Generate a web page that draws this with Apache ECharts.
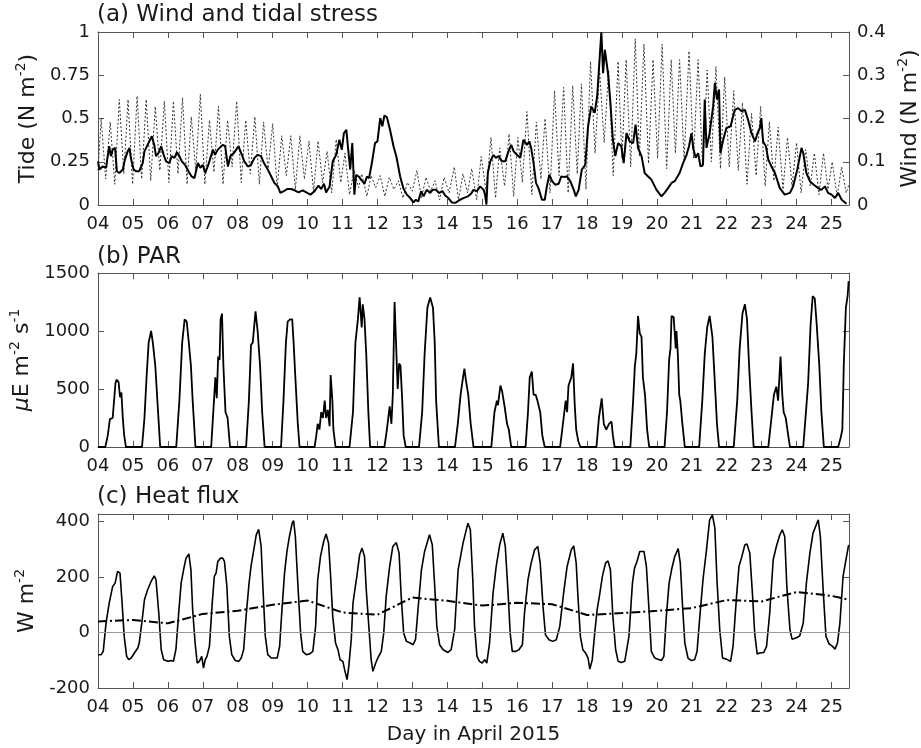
<!DOCTYPE html>
<html><head><meta charset="utf-8">
<script src="https://cdn.jsdelivr.net/npm/echarts@6/dist/echarts.min.js"></script>
<style>html,body{margin:0;padding:0;background:#fff}#c{width:921px;height:748px}</style>
</head><body><div id="c"></div>
<script>
// ---- tick labels ----
const dayLabels = ['04','05','06','07','08','09','10','11','12','13','14','15','16','17','18','19','20','21','22','23','24','25'];
const panelTitles = ['(a) Wind and tidal stress', '(b) PAR', '(c) Heat flux'];

// ---- (a) tidal stress [day, N m-2] (left axis) ----
const tideStress = [[4.00,0.20],[4.09,0.50],[4.22,0.15],[4.35,0.48],[4.48,0.12],[4.61,0.61],[4.74,0.18],[4.86,0.61],[4.99,0.12],[5.12,0.63],[5.25,0.15],[5.38,0.61],[5.51,0.14],[5.64,0.57],[5.77,0.20],[5.90,0.60],[6.03,0.13],[6.16,0.60],[6.29,0.18],[6.42,0.62],[6.55,0.12],[6.67,0.51],[6.80,0.20],[6.93,0.64],[7.06,0.12],[7.19,0.49],[7.32,0.19],[7.45,0.57],[7.58,0.12],[7.71,0.49],[7.84,0.22],[7.97,0.60],[8.10,0.13],[8.23,0.49],[8.36,0.18],[8.49,0.51],[8.62,0.12],[8.74,0.48],[8.87,0.20],[9.00,0.47],[9.13,0.10],[9.26,0.40],[9.39,0.17],[9.52,0.40],[9.65,0.09],[9.78,0.40],[9.91,0.15],[10.04,0.37],[10.17,0.08],[10.30,0.37],[10.43,0.13],[10.56,0.31],[10.69,0.07],[10.82,0.38],[10.95,0.13],[11.07,0.30],[11.20,0.06],[11.33,0.20],[11.46,0.10],[11.55,0.18],[11.70,0.05],[11.82,0.17],[11.95,0.10],[12.08,0.17],[12.21,0.05],[12.34,0.16],[12.47,0.09],[12.60,0.14],[12.73,0.04],[12.86,0.13],[13.00,0.08],[13.13,0.20],[13.26,0.04],[13.39,0.16],[13.52,0.08],[13.65,0.14],[13.78,0.03],[13.91,0.16],[14.05,0.07],[14.20,0.22],[14.32,0.03],[14.45,0.18],[14.58,0.07],[14.70,0.21],[14.84,0.03],[14.97,0.28],[15.11,0.08],[15.25,0.39],[15.38,0.04],[15.50,0.33],[15.64,0.11],[15.77,0.41],[15.90,0.05],[16.02,0.39],[16.15,0.13],[16.28,0.54],[16.42,0.06],[16.55,0.48],[16.68,0.15],[16.80,0.50],[16.94,0.07],[17.07,0.66],[17.20,0.17],[17.33,0.68],[17.46,0.07],[17.59,0.69],[17.72,0.18],[17.84,0.70],[17.97,0.09],[18.10,0.83],[18.23,0.30],[18.36,0.78],[18.49,0.36],[18.62,0.78],[18.75,0.17],[18.89,0.83],[19.00,0.27],[19.12,0.84],[19.25,0.22],[19.38,0.96],[19.50,0.28],[19.63,0.93],[19.76,0.24],[19.89,0.84],[20.02,0.27],[20.15,0.93],[20.28,0.21],[20.41,0.84],[20.53,0.30],[20.65,0.84],[20.78,0.26],[20.92,0.89],[21.05,0.27],[21.18,0.84],[21.31,0.22],[21.44,0.78],[21.56,0.25],[21.69,0.80],[21.82,0.21],[21.94,0.74],[22.07,0.22],[22.20,0.66],[22.33,0.20],[22.45,0.59],[22.58,0.12],[22.71,0.53],[22.84,0.17],[22.97,0.57],[23.10,0.11],[23.22,0.48],[23.35,0.14],[23.47,0.45],[23.61,0.09],[23.74,0.39],[23.87,0.11],[24.00,0.36],[24.13,0.07],[24.26,0.32],[24.39,0.11],[24.51,0.30],[24.64,0.06],[24.77,0.30],[24.90,0.09],[25.02,0.25],[25.16,0.05],[25.29,0.22],[25.42,0.07],[25.50,0.12]];

// ---- (a) wind stress [day, N m-2] (right axis) ----
const windStress = [[4.00,0.101],[4.04,0.082],[4.13,0.089],[4.23,0.086],[4.32,0.136],[4.37,0.113],[4.42,0.128],[4.49,0.132],[4.54,0.078],[4.61,0.074],[4.71,0.082],[4.77,0.105],[4.85,0.124],[4.90,0.132],[4.95,0.105],[5.02,0.082],[5.09,0.078],[5.18,0.078],[5.28,0.097],[5.33,0.124],[5.42,0.139],[5.54,0.159],[5.61,0.139],[5.66,0.113],[5.73,0.120],[5.81,0.136],[5.88,0.116],[5.95,0.101],[6.04,0.097],[6.11,0.113],[6.19,0.109],[6.26,0.122],[6.33,0.113],[6.40,0.101],[6.49,0.093],[6.59,0.078],[6.68,0.066],[6.76,0.062],[6.86,0.097],[6.93,0.086],[7.00,0.093],[7.07,0.074],[7.14,0.089],[7.19,0.101],[7.29,0.128],[7.35,0.116],[7.43,0.128],[7.57,0.139],[7.64,0.136],[7.72,0.089],[7.79,0.113],[7.89,0.120],[8.02,0.136],[8.10,0.120],[8.19,0.101],[8.29,0.089],[8.38,0.093],[8.48,0.109],[8.57,0.116],[8.67,0.113],[8.75,0.097],[8.86,0.082],[8.96,0.066],[9.05,0.051],[9.15,0.043],[9.22,0.028],[9.32,0.032],[9.42,0.037],[9.53,0.037],[9.63,0.034],[9.74,0.029],[9.86,0.034],[9.99,0.028],[10.08,0.024],[10.20,0.032],[10.31,0.045],[10.39,0.037],[10.47,0.049],[10.53,0.029],[10.63,0.043],[10.72,0.101],[10.82,0.116],[10.91,0.151],[10.98,0.128],[11.04,0.166],[11.11,0.174],[11.15,0.139],[11.22,0.082],[11.28,0.143],[11.34,0.024],[11.39,0.070],[11.46,0.066],[11.53,0.059],[11.63,0.049],[11.70,0.066],[11.76,0.062],[11.84,0.097],[11.93,0.143],[12.00,0.147],[12.08,0.201],[12.14,0.182],[12.20,0.207],[12.27,0.203],[12.36,0.174],[12.46,0.136],[12.55,0.109],[12.65,0.066],[12.74,0.039],[12.84,0.024],[12.94,0.016],[13.03,0.006],[13.10,0.012],[13.17,0.008],[13.25,0.032],[13.32,0.020],[13.41,0.035],[13.51,0.028],[13.58,0.035],[13.67,0.035],[13.77,0.028],[13.86,0.032],[13.94,0.022],[14.03,0.016],[14.13,0.006],[14.23,0.005],[14.34,0.011],[14.46,0.016],[14.59,0.020],[14.68,0.026],[14.75,0.035],[14.85,0.032],[14.94,0.043],[15.04,0.035],[15.08,0.024],[15.12,0.001],[15.16,0.074],[15.23,0.101],[15.32,0.116],[15.39,0.109],[15.47,0.113],[15.56,0.101],[15.66,0.101],[15.75,0.124],[15.83,0.139],[15.90,0.124],[15.99,0.116],[16.09,0.109],[16.18,0.151],[16.28,0.139],[16.35,0.147],[16.40,0.132],[16.47,0.097],[16.54,0.051],[16.61,0.039],[16.71,0.012],[16.79,0.012],[16.85,0.043],[16.92,0.070],[17.00,0.055],[17.09,0.047],[17.19,0.049],[17.26,0.066],[17.33,0.065],[17.43,0.066],[17.52,0.055],[17.62,0.035],[17.68,0.020],[17.76,0.035],[17.85,0.082],[17.95,0.093],[18.03,0.182],[18.12,0.228],[18.22,0.213],[18.29,0.251],[18.34,0.313],[18.41,0.400],[18.46,0.305],[18.51,0.359],[18.55,0.363],[18.60,0.305],[18.67,0.236],[18.74,0.151],[18.81,0.113],[18.89,0.143],[18.98,0.136],[19.05,0.097],[19.13,0.166],[19.22,0.147],[19.32,0.143],[19.39,0.186],[19.46,0.132],[19.56,0.113],[19.65,0.074],[19.75,0.066],[19.84,0.059],[19.99,0.035],[20.13,0.020],[20.22,0.028],[20.32,0.039],[20.42,0.051],[20.51,0.055],[20.65,0.074],[20.75,0.097],[20.85,0.116],[20.92,0.136],[20.99,0.166],[21.04,0.132],[21.11,0.109],[21.18,0.120],[21.25,0.089],[21.32,0.093],[21.37,0.244],[21.42,0.132],[21.51,0.166],[21.61,0.228],[21.66,0.282],[21.72,0.244],[21.78,0.267],[21.82,0.120],[21.90,0.151],[21.99,0.178],[22.11,0.182],[22.23,0.220],[22.33,0.224],[22.42,0.217],[22.52,0.220],[22.61,0.197],[22.71,0.166],[22.81,0.147],[22.88,0.166],[22.95,0.178],[22.99,0.201],[23.04,0.147],[23.12,0.136],[23.19,0.105],[23.28,0.089],[23.38,0.074],[23.52,0.039],[23.66,0.024],[23.81,0.028],[23.90,0.043],[24.02,0.082],[24.14,0.132],[24.19,0.120],[24.28,0.074],[24.38,0.055],[24.49,0.047],[24.62,0.039],[24.71,0.035],[24.81,0.043],[24.90,0.028],[25.00,0.024],[25.10,0.016],[25.19,0.028],[25.29,0.012],[25.43,0.003]];

// ---- (b) PAR [day, uE m-2 s-1] ----
const par = [[4.00,0],[4.21,0],[4.28,100],[4.34,240],[4.42,250],[4.50,550],[4.53,580],[4.59,560],[4.63,430],[4.67,470],[4.71,250],[4.75,100],[4.80,0],
[5.26,0],[5.33,250],[5.39,600],[5.45,900],[5.52,1000],[5.57,900],[5.64,700],[5.71,350],[5.78,0],
[6.24,0],[6.33,400],[6.41,900],[6.48,1100],[6.54,1080],[6.60,900],[6.66,700],[6.71,400],[6.79,0],
[7.24,0],[7.30,300],[7.36,600],[7.40,420],[7.44,780],[7.48,750],[7.51,1100],[7.55,1150],[7.59,700],[7.65,300],[7.71,250],[7.78,0],
[8.24,0],[8.32,400],[8.38,880],[8.43,900],[8.51,1170],[8.57,1000],[8.64,700],[8.70,300],[8.77,0],
[9.24,0],[9.31,400],[9.38,900],[9.43,1080],[9.50,1100],[9.56,1100],[9.60,900],[9.65,600],[9.72,200],[9.77,0],
[10.20,0],[10.25,100],[10.29,200],[10.34,150],[10.39,300],[10.44,250],[10.49,400],[10.53,250],[10.58,320],[10.63,180],[10.66,620],[10.71,400],[10.74,150],[10.80,0],
[11.20,0],[11.30,300],[11.37,900],[11.44,1100],[11.49,1290],[11.55,1030],[11.58,1230],[11.63,1100],[11.68,800],[11.74,300],[11.79,0],
[12.20,0],[12.27,150],[12.35,350],[12.40,200],[12.44,450],[12.49,1250],[12.54,1240],[12.58,500],[12.62,720],[12.66,700],[12.71,400],[12.75,100],[12.81,0],
[13.19,0],[13.28,300],[13.35,800],[13.43,1200],[13.51,1290],[13.59,1200],[13.64,900],[13.68,400],[13.76,0],
[14.22,0],[14.30,200],[14.38,450],[14.45,600],[14.49,675],[14.53,580],[14.60,450],[14.67,200],[14.75,0],
[15.26,0],[15.35,300],[15.42,400],[15.45,360],[15.52,530],[15.57,480],[15.64,350],[15.71,200],[15.76,150],[15.83,0],
[16.24,0],[16.31,300],[16.36,600],[16.42,650],[16.47,450],[16.53,450],[16.58,400],[16.62,400],[16.66,300],[16.72,100],[16.79,0],
[17.23,0],[17.33,250],[17.39,400],[17.43,300],[17.47,530],[17.55,600],[17.60,720],[17.65,350],[17.69,150],[17.75,50],[17.81,0],
[18.27,0],[18.34,250],[18.42,420],[18.48,200],[18.55,150],[18.63,200],[18.70,220],[18.74,100],[18.79,0],
[19.24,0],[19.32,400],[19.37,700],[19.41,800],[19.46,1130],[19.51,980],[19.56,950],[19.60,600],[19.66,450],[19.72,150],[19.78,0],
[20.22,0],[20.29,300],[20.35,750],[20.39,850],[20.42,1130],[20.48,1120],[20.54,850],[20.56,1000],[20.60,800],[20.64,450],[20.67,400],[20.73,200],[20.80,0],
[21.21,0],[21.30,400],[21.37,800],[21.44,1030],[21.51,1130],[21.59,950],[21.66,550],[21.72,200],[21.78,0],
[22.20,0],[22.30,400],[22.37,850],[22.45,1150],[22.52,1230],[22.58,1100],[22.64,700],[22.71,300],[22.77,0],
[23.19,0],[23.28,250],[23.35,450],[23.42,520],[23.47,400],[23.54,780],[23.59,450],[23.63,300],[23.69,250],[23.76,100],[23.81,0],
[24.19,0],[24.28,350],[24.33,550],[24.40,1050],[24.46,1300],[24.52,1280],[24.57,1080],[24.65,700],[24.71,300],[24.78,0],
[25.19,0],[25.26,80],[25.31,150],[25.35,700],[25.41,1200],[25.46,1300],[25.49,1430]];

// ---- (c) heat flux [day, W m-2] ----
const heatFlux = [[4.00,-80],[4.09,-80],[4.15,-68],[4.23,34],[4.32,106],[4.42,166],[4.49,178],[4.56,220],[4.63,214],[4.69,106],[4.75,-14],[4.82,-86],[4.88,-98],[4.95,-92],[5.04,-74],[5.14,-56],[5.18,-38],[5.26,40],[5.33,118],[5.42,154],[5.52,184],[5.61,204],[5.66,190],[5.74,70],[5.81,-62],[5.88,-98],[6.00,-104],[6.09,-101],[6.16,-104],[6.23,-62],[6.31,70],[6.38,178],[6.45,226],[6.52,268],[6.60,283],[6.66,226],[6.71,82],[6.78,-38],[6.84,-110],[6.90,-104],[6.97,-86],[7.02,-128],[7.07,-98],[7.12,-86],[7.19,-50],[7.27,106],[7.33,202],[7.38,214],[7.43,256],[7.51,268],[7.57,268],[7.62,256],[7.69,166],[7.76,-14],[7.83,-80],[7.93,-101],[8.03,-104],[8.10,-92],[8.17,-62],[8.24,58],[8.32,172],[8.38,238],[8.46,298],[8.53,352],[8.60,372],[8.67,310],[8.72,166],[8.79,-14],[8.86,-80],[8.96,-92],[9.05,-92],[9.13,-92],[9.20,-50],[9.26,70],[9.34,214],[9.41,292],[9.48,346],[9.56,394],[9.60,403],[9.65,346],[9.72,178],[9.80,-2],[9.86,-68],[9.96,-80],[10.06,-77],[10.15,-68],[10.23,22],[10.29,190],[10.37,274],[10.46,328],[10.53,355],[10.60,322],[10.66,202],[10.72,58],[10.80,-38],[10.87,-62],[10.93,-98],[11.01,-104],[11.06,-134],[11.13,-170],[11.18,-122],[11.25,-26],[11.30,106],[11.34,142],[11.41,202],[11.49,280],[11.56,304],[11.63,274],[11.68,154],[11.76,10],[11.82,-98],[11.87,-140],[11.95,-110],[12.01,-92],[12.11,-68],[12.18,-2],[12.25,130],[12.35,238],[12.44,310],[12.54,324],[12.62,286],[12.68,130],[12.75,-2],[12.83,-32],[12.94,-38],[13.02,-44],[13.09,-26],[13.16,82],[13.26,226],[13.35,292],[13.49,352],[13.57,316],[13.64,166],[13.70,22],[13.78,-44],[13.88,-62],[14.02,-72],[14.11,-62],[14.21,10],[14.31,226],[14.45,322],[14.59,394],[14.66,370],[14.73,190],[14.78,22],[14.85,-86],[14.92,-104],[15.00,-110],[15.07,-98],[15.13,-110],[15.21,-38],[15.31,142],[15.40,238],[15.50,316],[15.59,358],[15.66,310],[15.74,142],[15.80,-2],[15.86,-68],[15.96,-68],[16.05,-62],[16.15,-44],[16.21,70],[16.31,190],[16.40,250],[16.50,298],[16.59,310],[16.66,250],[16.74,94],[16.81,-8],[16.91,-26],[17.02,-32],[17.12,-26],[17.22,22],[17.33,142],[17.43,238],[17.55,298],[17.62,312],[17.69,250],[17.74,130],[17.81,-14],[17.88,-62],[17.96,-74],[18.03,-92],[18.08,-132],[18.15,-98],[18.22,-2],[18.29,82],[18.36,136],[18.44,202],[18.53,250],[18.60,258],[18.67,226],[18.74,58],[18.82,-62],[18.89,-104],[18.98,-108],[19.08,-104],[19.13,-110],[19.20,-14],[19.30,178],[19.36,232],[19.43,256],[19.51,292],[19.63,292],[19.70,238],[19.78,70],[19.84,-68],[19.94,-92],[20.03,-96],[20.13,-101],[20.20,-86],[20.27,58],[20.35,178],[20.42,226],[20.51,274],[20.61,302],[20.67,250],[20.73,106],[20.80,-38],[20.89,-92],[20.99,-101],[21.08,-98],[21.15,-68],[21.23,58],[21.32,190],[21.42,298],[21.51,406],[21.59,424],[21.66,376],[21.72,190],[21.80,10],[21.88,-92],[21.99,-96],[22.11,-104],[22.18,-50],[22.28,130],[22.35,238],[22.42,268],[22.52,316],[22.58,319],[22.66,286],[22.74,130],[22.80,-2],[22.87,-77],[22.95,-74],[23.06,-72],[23.14,-50],[23.23,70],[23.33,262],[23.42,310],[23.52,352],[23.59,370],[23.66,346],[23.72,166],[23.81,10],[23.87,-24],[23.98,-20],[24.09,-12],[24.19,34],[24.28,178],[24.38,286],[24.47,358],[24.62,406],[24.68,346],[24.76,154],[24.84,-14],[24.93,-41],[25.03,-50],[25.10,-60],[25.17,-38],[25.24,34],[25.33,202],[25.43,274],[25.49,316]];

// ---- (c) daily-mean heat flux [day, W m-2] ----
const heatMean = [[4,40],[5,45],[6,33],[7,67],[8,78],[9,100],[10,115],[11,72],[12,64],[13,126],[14,114],[15,97],[16,107],[17,102],[18,63],[19,70],[20,78],[21,88],[22,117],[23,112],[24,146],[25,132],[25.5,118]];

// ---------------- chart ----------------
const F = 'DejaVu Sans';
const FRAME = '#555';
const TXT = '#1a1a1a';
const XMIN = 4, XMAX = 25.5;

const grids = [
  {left: 98, width: 751, top: 32, height: 173},
  {left: 98, width: 751, top: 273, height: 174},
  {left: 98, width: 751, top: 514, height: 174}
].map(g => Object.assign({containLabel: false, outerBoundsMode: 'none'}, g));

function xBottom(gi, name) {
  return {
    type: 'value', gridIndex: gi, position: 'bottom', min: XMIN, max: XMAX, interval: 1,
    axisLine: {show: true, onZero: false, lineStyle: {color: FRAME, width: 1}},
    axisTick: {show: true, inside: true, length: 6, lineStyle: {color: FRAME}},
    axisLabel: {show: true, margin: 10, fontSize: 18, fontFamily: F, color: TXT, showMaxLabel: false,
      formatter: v => Number.isInteger(v) ? dayLabels[v - XMIN] : ''},
    splitLine: {show: false},
    name: name || '', nameLocation: 'middle', nameGap: 37,
    nameTextStyle: {fontSize: 20, fontFamily: F, color: TXT}
  };
}
function xTop(gi) {
  return {
    type: 'value', gridIndex: gi, position: 'top', min: XMIN, max: XMAX, interval: 1,
    axisLine: {show: true, onZero: false, lineStyle: {color: FRAME, width: 1}},
    axisTick: {show: true, inside: true, length: 6, lineStyle: {color: FRAME}},
    axisLabel: {show: false}, splitLine: {show: false}
  };
}
const supRich = {
  sup: {fontSize: 14, fontFamily: F, color: TXT, verticalAlign: 'top', lineHeight: 28},
  it: {fontSize: 22, fontFamily: F, color: TXT, fontStyle: 'italic'}
};
function yAxis(gi, pos, min, max, interval, showLabel, name, gap, fmt) {
  return {
    type: 'value', gridIndex: gi, position: pos, min, max, interval,
    axisLine: {show: true, onZero: false, lineStyle: {color: FRAME, width: 1}},
    axisTick: {show: true, inside: true, length: 6, lineStyle: {color: FRAME}},
    axisLabel: {show: showLabel, margin: 8, fontSize: 18, fontFamily: F, color: TXT, showMaxLabel: true,
      formatter: fmt || (v => String(v))},
    splitLine: {show: false},
    name: name || '', nameLocation: 'middle', nameRotate: 90, nameGap: gap || 0,
    nameTextStyle: {fontSize: 22, fontFamily: F, color: TXT, rich: supRich}
  };
}

const option = {
  animation: false,
  backgroundColor: '#fff',
  title: panelTitles.map((t, i) => ({
    text: t, left: 92, top: [-1, 241, 481][i], padding: 5,
    textStyle: {fontSize: 23, fontWeight: 'normal', fontFamily: F, color: TXT}
  })),
  grid: grids,
  xAxis: [xBottom(0), xTop(0), xBottom(1), xTop(1), xBottom(2, 'Day in April 2015'), xTop(2)],
  yAxis: [
    yAxis(0, 'left', 0, 1, 0.25, true, 'Tide (N m{sup|-2})', 56),
    yAxis(0, 'right', 0, 0.4, 0.1, true, 'Wind (N m{sup|-2})', 42),
    yAxis(1, 'left', 0, 1500, 500, true, '{it|\u03bc}E m{sup|-2} s{sup|-1}', 58),
    yAxis(1, 'right', 0, 1500, 500, false),
    yAxis(2, 'left', -200, 427, 200, true, 'W m{sup|-2}', 57, v => (v % 200 === 0 ? String(v) : '')),
    yAxis(2, 'right', -200, 427, 200, false)
  ],
  series: [
    {type: 'line', name: 'Tide', xAxisIndex: 0, yAxisIndex: 0, data: tideStress, showSymbol: false, symbol: 'none',
      lineStyle: {color: '#333', width: 1, type: [2, 2]}, z: 2},
    {type: 'line', name: 'Wind', xAxisIndex: 0, yAxisIndex: 1, data: windStress, showSymbol: false, symbol: 'none',
      lineStyle: {color: '#000', width: 2}, z: 3},
    {type: 'line', name: 'PAR', xAxisIndex: 2, yAxisIndex: 2, data: par, showSymbol: false, symbol: 'none',
      lineStyle: {color: '#000', width: 1.8}},
    {type: 'line', name: 'Heat flux', xAxisIndex: 4, yAxisIndex: 4, data: heatFlux, showSymbol: false, symbol: 'none',
      lineStyle: {color: '#000', width: 1.6}, z: 3,
      markLine: {silent: true, symbol: 'none', label: {show: false},
        lineStyle: {color: '#999', width: 1, type: 'solid'}, data: [{yAxis: 0}]}},
    {type: 'line', name: 'Mean heat flux', xAxisIndex: 4, yAxisIndex: 4, data: heatMean, showSymbol: false, symbol: 'none',
      lineStyle: {color: '#000', width: 2, type: [9, 3, 2, 3]}, z: 3}
  ]
};
const chart = echarts.init(document.getElementById('c'), null, {renderer: 'canvas', width: 921, height: 748});
chart.setOption(option);
</script>
</body></html>
